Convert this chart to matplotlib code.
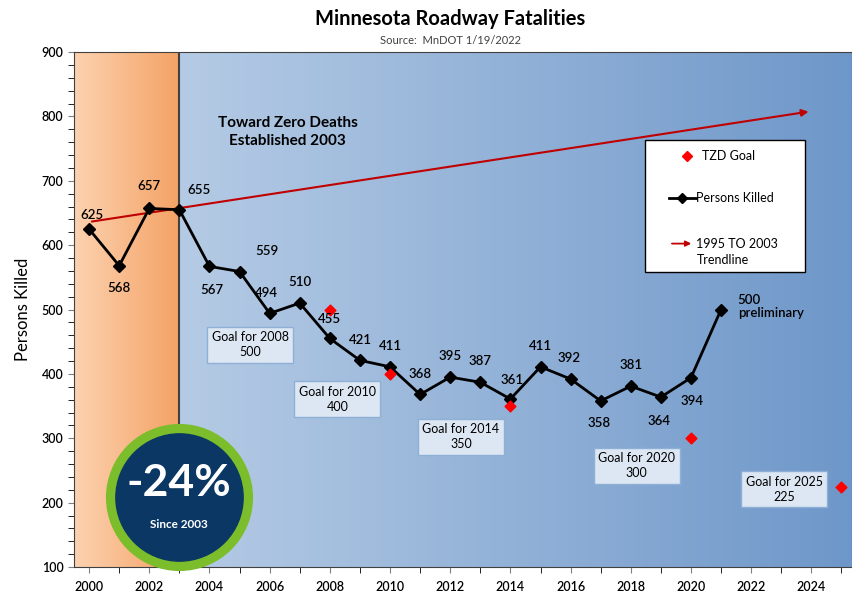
import numpy as np
import matplotlib
matplotlib.use('Agg')
import matplotlib.pyplot as plt
from matplotlib.colors import LinearSegmentedColormap
from matplotlib.lines import Line2D
from matplotlib.patches import Rectangle

plt.rcParams['font.family'] = ['Lato', 'DejaVu Sans']

years = [2000, 2001, 2002, 2003, 2004, 2005, 2006, 2007, 2008, 2009, 2010,
         2011, 2012, 2013, 2014, 2015, 2016, 2017, 2018, 2019, 2020, 2021]
killed = [625, 568, 657, 655, 567, 559, 494, 510, 455, 421, 411,
          368, 395, 387, 361, 411, 392, 358, 381, 364, 394, 500]
goal_years = [2008, 2010, 2014, 2020, 2025]
goal_values = [500, 400, 350, 300, 225]
trend_years = [2000, 2024]
trend_values = [636, 808]

# label offsets in points (dx, dy)
offs = [(2, 10), (0, -16), (0, 16), (14, 14), (2, -17), (20, 15), (-2, 15), (0, 15),
        (0, 14), (0, 15), (0, 15), (0, 15), (0, 15), (0, 15), (1, 14), (0, 15),
        (-1, 15), (-1, -16), (0, 15), (-1, -17), (1, -17), (0, 0)]
# goal label box positions (x in years, y in value)
goal_box = [(2005.35, 445), (2008.25, 361), (2012.36, 302), (2018.2, 257), (2023.1, 221)]

fig = plt.figure(figsize=(8.53, 5.93), dpi=100)
ax = fig.add_axes([0.0868, 0.0438, 0.912, 0.8685])
x0, x1 = 1999.5, 2025.35
ax.set_xlim(x0, x1)
ax.set_ylim(100, 900)

# gradient backgrounds
orange = LinearSegmentedColormap.from_list('o', ['#fcd2b0', '#f4a265'])
blue = LinearSegmentedColormap.from_list('b', ['#b5cbe5', '#6e97c9'])
grad = np.linspace(0, 1, 256).reshape(1, -1)
ax.imshow(grad, cmap=orange, extent=[x0, 2003, 100, 900], aspect='auto', zorder=0)
ax.imshow(grad, cmap=blue, extent=[2003, x1, 100, 900], aspect='auto', zorder=0)
ax.axvline(2003, color='#404040', lw=1.5, zorder=1)

# trendline arrow
ax.annotate('', xy=(trend_years[1], trend_values[1]), xytext=(trend_years[0], trend_values[0]),
            arrowprops=dict(arrowstyle='-|>', color='#c00000', lw=1.5, mutation_scale=10), zorder=2)

ax.plot(years, killed, color='black', lw=2, marker='D', ms=6, zorder=3)
ax.scatter(goal_years, goal_values, marker='D', color='#ff0000', s=30, zorder=3, clip_on=False)

for yr, v, (dx, dy) in zip(years[:-1], killed[:-1], offs[:-1]):
    ax.annotate(str(v), (yr, v), xytext=(dx, dy), textcoords='offset points',
                ha='center', va='center', fontsize=9.5, fontweight='semibold', zorder=4)
ax.annotate('%d\npreliminary' % killed[-1], (years[-1], killed[-1]), xytext=(12, 2),
            textcoords='offset points', ha='left', va='center', fontsize=9.5,
            fontweight='semibold', linespacing=1.1, zorder=4)

for (bx, by), gy, gv in zip(goal_box, goal_years, goal_values):
    ax.text(bx, by, 'Goal for %d\n%d' % (gy, gv), ha='center', va='center', fontsize=9,
            linespacing=1.3, zorder=4,
            bbox=dict(boxstyle='square,pad=0.35', fc='#dde7f3', ec='#8fb0d6', lw=1))

ax.text(2006.6, 776, 'Toward Zero Deaths\nEstablished 2003', ha='center', va='center',
        fontsize=11, fontweight='bold', linespacing=1.4, zorder=4)

# -24% badge
ax.scatter([2003], [209], s=11000, color='#7bbd2a', zorder=5, clip_on=False)
ax.scatter([2003], [209], s=8400, color='#0b3765', zorder=6, clip_on=False)
ax.text(2003, 230, '-24%', color='white', fontsize=32, fontweight='bold',
        ha='center', va='center', zorder=7)
ax.text(2003, 166, 'Since 2003', color='white', fontsize=8.5, fontweight='bold',
        ha='center', va='center', zorder=7)

# legend box
ax.add_patch(Rectangle((0.734, 0.573), 0.206, 0.256, transform=ax.transAxes,
                       fc='white', ec='black', lw=1, zorder=8))
ax.add_line(Line2D([0.788], [0.799], transform=ax.transAxes, marker='D', color='#ff0000',
                   ms=5, ls='none', zorder=9))
ax.text(0.807, 0.799, 'TZD Goal', transform=ax.transAxes, va='center', fontsize=9, zorder=9)
ax.add_line(Line2D([0.765, 0.800], [0.717, 0.717], transform=ax.transAxes, color='black',
                   lw=2, zorder=9))
ax.add_line(Line2D([0.782], [0.717], transform=ax.transAxes, marker='D', color='black',
                   ms=5, zorder=9))
ax.text(0.800, 0.717, 'Persons Killed', transform=ax.transAxes, va='center', fontsize=9, zorder=9)
ax.annotate('', xy=(0.797, 0.628), xytext=(0.765, 0.628), xycoords='axes fraction',
            arrowprops=dict(arrowstyle='-|>', color='#c00000', lw=1.3, mutation_scale=8),
            zorder=9)
ax.text(0.800, 0.612, '1995 TO 2003\nTrendline', transform=ax.transAxes, va='center',
        fontsize=9, linespacing=1.4, zorder=9)

ax.set_xticks(range(2000, 2025, 2))
ax.set_xticks(range(2000, 2026), minor=True)
ax.set_yticks(range(100, 901, 100))
ax.set_yticks(range(100, 901, 20), minor=True)
ax.tick_params(axis='both', labelsize=9, direction='out', color='#808080')
ax.tick_params(axis='x', which='both', length=4, pad=6)
ax.tick_params(axis='y', which='both', length=4)
for t in ax.get_xticklabels() + ax.get_yticklabels():
    t.set_fontweight('semibold')
for s in ax.spines.values():
    s.set_color('#404040')
ax.set_ylabel('Persons Killed', fontsize=12, labelpad=8)

fig.text(0.528, 0.968, 'Minnesota Roadway Fatalities', ha='center', va='center',
         fontsize=14.5, fontweight='bold')
fig.text(0.528, 0.932, 'Source:  MnDOT 1/19/2022', ha='center', va='center', fontsize=8,
         color='#404040')

fig.savefig('out.png', dpi=100)
